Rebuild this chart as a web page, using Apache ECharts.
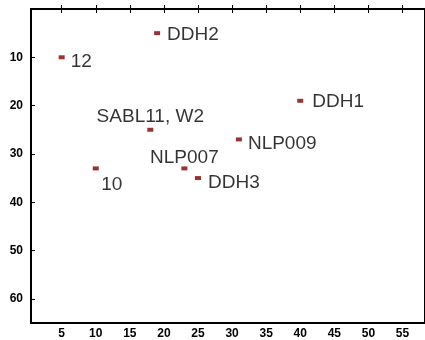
<!DOCTYPE html>
<html>
<head>
<meta charset="utf-8">
<script src="https://cdn.jsdelivr.net/npm/echarts@6/dist/echarts.min.js"></script>
<style>
  html, body { margin: 0; padding: 0; background: #fff; }
  #chart { width: 425px; height: 340px; }
</style>
</head>
<body>
<div id="chart"></div>
<script>
const names = ['12', 'DDH2', 'DDH1', 'SABL11, W2', 'NLP009', 'NLP007', '10', 'DDH3'];
const xValues = [5, 19, 40, 18, 31, 23, 10, 25];
const yValues = [10, 5, 19, 25, 27, 33, 33, 35];
const xTicks = [5, 10, 15, 20, 25, 30, 35, 40, 45, 50, 55];
const yTicks = [10, 20, 30, 40, 50, 60];

const font = 'Arial, "Liberation Sans", sans-serif';

// where each name sits next to its marker
const labelPlace = {
  '12': { position: 'right', offset: [1, 4] },
  'DDH2': { position: 'right', offset: [2, 2] },
  'DDH1': { position: 'right', offset: [4, 1] },
  'SABL11, W2': { position: 'top', offset: [0, 3] },
  'NLP009': { position: 'right', offset: [1, 4] },
  'NLP007': { position: 'top', offset: [0, 6] },
  '10': { position: 'bottom', offset: [16, 0] },
  'DDH3': { position: 'right', offset: [2, 5] },
};

const points = names.map((n, i) => ({
  name: n,
  value: [xValues[i], yValues[i]],
  label: {
    show: true,
    formatter: '{b}',
    position: labelPlace[n].position,
    offset: labelPlace[n].offset,
    distance: 5,
    color: '#000',
    fontSize: 19,
    fontFamily: font,
  },
}));

const chart = echarts.init(document.getElementById('chart'));

const tickStyle = { color: '#000' };
const labelStyle = { color: '#000', fontSize: 12, fontWeight: 'bold', fontFamily: font };

const option = {
  animation: false,
  grid: {
    left: 31,
    top: 9,
    right: -3,
    bottom: 17,
    show: true,
    borderColor: '#000',
    borderWidth: 2,
  },
  xAxis: [
    {
      type: 'value',
      min: 0.5,
      max: 58.3,
      position: 'bottom',
      splitLine: { show: false },
      axisLine: { show: false },
      axisTick: { show: true, inside: true, length: 4, customValues: xTicks, lineStyle: tickStyle },
      axisLabel: Object.assign({ customValues: xTicks, margin: 5 }, labelStyle),
    },
    {
      type: 'value',
      min: 0.5,
      max: 58.3,
      position: 'top',
      splitLine: { show: false },
      axisLine: { show: false },
      axisTick: { show: true, inside: true, length: 4, customValues: xTicks, lineStyle: tickStyle },
      axisLabel: { show: false },
    },
  ],
  yAxis: {
    type: 'value',
    inverse: true,
    min: 0,
    max: 65,
    splitLine: { show: false },
    axisLine: { show: false },
    axisTick: { show: true, inside: true, length: 4, customValues: yTicks, lineStyle: tickStyle },
    axisLabel: Object.assign({ customValues: yTicks, margin: 8 }, labelStyle),
  },
  series: [
    {
      type: 'scatter',
      symbol: 'rect',
      symbolSize: [6, 4],
      itemStyle: { color: '#800000' },
      data: points,
    },
  ],
};

chart.setOption(option);
</script>
</body>
</html>
